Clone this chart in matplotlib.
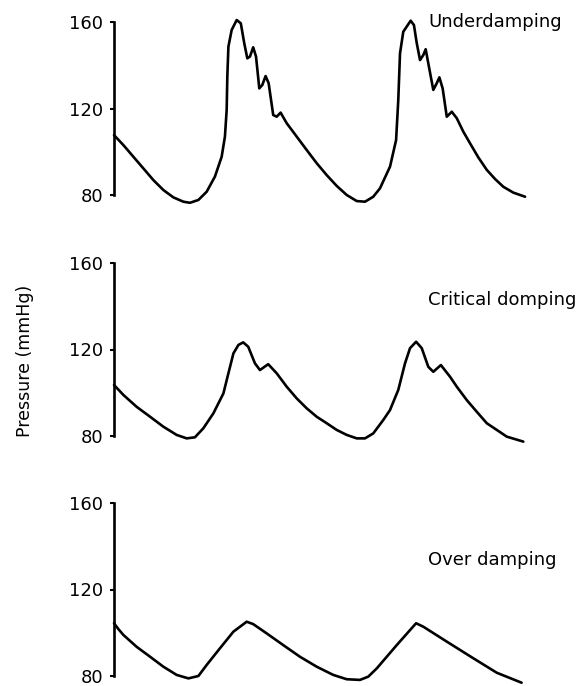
import matplotlib
matplotlib.use("Agg")
import matplotlib.pyplot as plt
import numpy as np

#Traced pressure waveforms (time in s, pressure in mmHg)
t_under = [0.0, 0.043, 0.089, 0.135, 0.181, 0.227, 0.273, 0.319, 0.349, 0.388, 0.426, 0.464, 0.495, 0.510, 0.518,
           0.521, 0.526, 0.541, 0.564, 0.583, 0.599, 0.613, 0.625, 0.640, 0.653, 0.668, 0.682, 0.697, 0.711, 0.732,
           0.748, 0.766, 0.794, 0.840, 0.886, 0.932, 0.978, 1.024, 1.070, 1.116, 1.154, 1.192, 1.223, 1.269, 1.297,
           1.307, 1.315, 1.330, 1.364, 1.379, 1.392, 1.407, 1.422, 1.433, 1.448, 1.468, 1.484, 1.496, 1.511, 1.530,
           1.553, 1.576, 1.606, 1.637, 1.675, 1.714, 1.752, 1.790, 1.836, 1.890]
p_under = [107.7, 103.1, 97.7, 92.3, 86.9, 82.3, 78.9, 76.9, 76.4, 77.7, 81.5, 88.5, 97.7, 107.0, 119.3,
           134.7, 148.6, 156.3, 160.9, 159.4, 150.1, 143.2, 144.0, 148.3, 144.0, 129.3, 130.9, 135.0, 131.7, 117.0,
           116.2, 118.1, 113.2, 107.0, 100.8, 94.7, 89.2, 84.2, 80.0, 77.2, 76.9, 79.2, 83.1, 93.1, 105.4,
           123.9, 145.5, 155.5, 160.6, 158.6, 150.2, 142.4, 144.7, 147.4, 139.3, 128.6, 131.7, 134.4, 129.3, 116.2,
           118.5, 115.5, 109.3, 103.9, 97.4, 91.6, 87.4, 83.8, 81.1, 79.2]

t_crit = [0.0, 0.043, 0.104, 0.166, 0.227, 0.288, 0.334, 0.372, 0.411, 0.457, 0.503, 0.526, 0.549, 0.572, 0.594,
          0.617, 0.648, 0.671, 0.709, 0.748, 0.794, 0.840, 0.886, 0.932, 0.978, 1.024, 1.070, 1.116, 1.154, 1.192,
          1.238, 1.269, 1.307, 1.338, 1.361, 1.389, 1.415, 1.445, 1.468, 1.503, 1.545, 1.576, 1.622, 1.668, 1.714,
          1.760, 1.806, 1.882]
p_crit = [103.6, 99.0, 93.5, 88.9, 84.3, 80.5, 78.9, 79.4, 83.6, 90.5, 99.7, 109.0, 118.2, 122.1, 123.3,
          121.3, 113.6, 110.5, 113.2, 109.0, 102.8, 97.4, 92.8, 88.9, 85.9, 82.8, 80.5, 78.9, 78.9, 81.2,
          87.4, 92.0, 101.3, 113.6, 120.6, 123.6, 120.6, 112.0, 109.7, 112.8, 107.4, 102.8, 96.6, 91.2, 85.9,
          82.8, 79.7, 77.4]

t_over = [0.0, 0.021, 0.043, 0.104, 0.166, 0.227, 0.288, 0.342, 0.388, 0.426, 0.487, 0.549, 0.610, 0.640, 0.702,
          0.778, 0.855, 0.932, 1.008, 1.070, 1.131, 1.169, 1.208, 1.300, 1.389, 1.422, 1.530, 1.652, 1.760, 1.874]
p_over = [104.4, 101.6, 99.0, 93.5, 88.9, 84.3, 80.5, 78.9, 80.0, 85.1, 92.8, 100.5, 105.1, 104.0, 99.7,
          94.3, 88.9, 84.3, 80.5, 78.5, 78.2, 79.7, 83.5, 94.3, 104.4, 102.8, 95.9, 88.2, 81.5, 76.9]

labels = ["Underdamping", "Critical domping", "Over damping"]
label_y = [160, 142.9, 133.6]
yticks = [80, 120, 160]

W, H = 577, 686
fig = plt.figure(figsize=(W / 100, H / 100), dpi=100)
scale = 2.1625  #pixels per mmHg
#(pixel row of 160 tick, lower ylim) per panel
panels = [(22, 72), (263, 72), (503, 75.5)]
series = [(t_under, p_under), (t_crit, p_crit), (t_over, p_over)]
x0, x1 = 114, 570
ymax = 166

for (y160, ylo), (t, p), lab, ly in zip(panels, series, labels, label_y):
    top = y160 - (ymax - 160) * scale
    bot = y160 + (160 - ylo) * scale
    ax = fig.add_axes([x0 / W, 1 - bot / H, (x1 - x0) / W, (bot - top) / H])
    ax.plot(t, p, color="black", lw=1.9, solid_joinstyle="round", solid_capstyle="round", clip_on=False)
    ax.set_xlim(0, (x1 - x0) / 217.5)
    ax.set_ylim(ylo, ymax)
    ax.set_yticks(yticks)
    ax.tick_params(axis="y", direction="out", length=3, width=1.5, pad=5, labelsize=13)
    ax.set_xticks([])
    for s in ["top", "right", "bottom"]:
        ax.spines[s].set_visible(False)
    ax.spines["left"].set_bounds(80, 160)
    ax.spines["left"].set_linewidth(1.9)
    ax.patch.set_alpha(0)
    ax.text((428 - x0) / 217.5, ly, lab, fontsize=13, va="center", ha="left")

fig.text(25 / W, 1 - 361 / H, "Pressure (mmHg)", rotation=90, va="center", ha="center", fontsize=12.5)

plt.savefig("out.png", dpi=100)
